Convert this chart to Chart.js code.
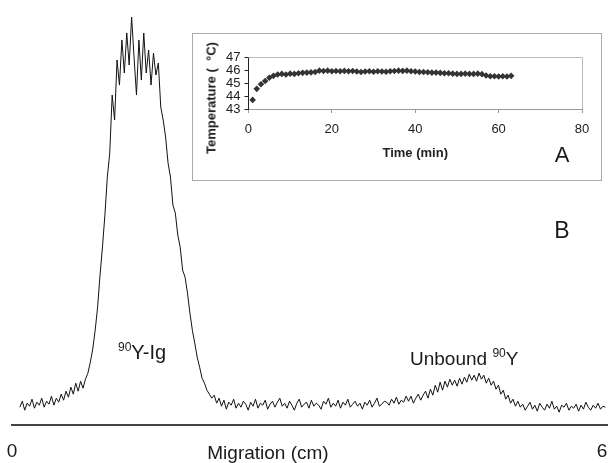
<!DOCTYPE html>
<html>
<head>
<meta charset="utf-8">
<script src="https://cdn.jsdelivr.net/npm/chart.js@4.4.1/dist/chart.umd.min.js"></script>
<style>
  body { margin: 0; background: #fff; font-family: Arial, "Liberation Sans", sans-serif; color: #1a1a1a; }
  #wrap { position: relative; width: 608px; height: 463px; overflow: hidden; }
  #main { position: absolute; left: 0; top: 0; }
  #insetBox { position: absolute; left: 192px; top: 33px; width: 408px; height: 146px; border: 1px solid #aaa; background: #fff; }
  .lbl { position: absolute; white-space: nowrap; line-height: 1; }
  .sup { font-size: 12px; position: relative; top: -8px; }
</style>
</head>
<body>
<div id="wrap">
  <canvas id="main" width="608" height="463"></canvas>
  <div id="insetBox"><canvas id="inset" width="408" height="146"></canvas></div>

  <div class="lbl" style="left:211px;top:98px;font-size:13px;font-weight:bold;transform:translate(-50%,-50%) rotate(-90deg);">Temperature (&nbsp; °C)</div>
  <div class="lbl" style="left:562px;top:155px;font-size:22px;transform:translate(-50%,-50%);">A</div>
  <div class="lbl" style="left:562px;top:230px;font-size:23px;transform:translate(-50%,-50%);">B</div>
  <div class="lbl" style="left:118px;top:342px;font-size:20px;"><span class="sup">90</span>Y-Ig</div>
  <div class="lbl" style="left:410px;top:349px;font-size:19px;">Unbound <span class="sup">90</span>Y</div>
  <div class="lbl" style="left:268px;top:452px;font-size:19px;transform:translate(-50%,-50%);">Migration (cm)</div>
</div>

<script>
//migration positions of the scanner readings (cm)
const migStart = 0.08
const migStep = 0.0247
//counts, left to right
const counts = [
  18,24,15,22,19,26,17,23,20,27,18,24,21,29,20,27,23,31,25,34,28,38,31,42,34,44,37,46,
  52,63,76,95,118,150,178,210,248,272,330,305,365,340,385,352,392,360,408,368,330,385,
  345,392,352,375,340,372,350,362,318,305,288,262,248,220,212,190,178,155,148,132,112,95,
  82,68,58,47,42,35,31,27,30,
  22,27,19,25,16,23,20,26,17,22,
  18,24,21,15,23,19,26,17,22,20,25,16,21,24,18,23,27,19,22,17,24,20,15,22,26,18,21,23,
  17,25,19,22,20,16,24,21,27,18,22,19,25,17,23,20,26,18,21,24,19,22,16,23,20,25,18,22,
  27,19,21,24,23,20,26,22,28,21,25,23,29,
  24,29,22,27,31,25,30,34,27,36,30,40,33,43,35,44,38,46,40,45,39,47,41,48,43,51,45,50,
  44,52,46,50,42,47,40,44,36,40,31,35,26,30,22,26,19,24,18,
  21,15,19,23,16,20,14,22,18,15,21,17,24,16,19,13,20,18,22,15,19,17,21,14,20,16,23,18,
  15,20,17,22,16,19,18
]
const migTicks = [0, 6]

//inset A: temperature logged every minute
const timeStart = 1
const temps = [
  43.7,44.55,44.9,45.15,45.4,45.55,45.65,45.7,45.65,45.72,
  45.7,45.75,45.78,45.8,45.82,45.85,45.95,45.92,45.95,45.9,
  45.92,45.9,45.93,45.9,45.92,45.88,45.85,45.88,45.9,45.87,
  45.9,45.88,45.86,45.9,45.92,45.95,45.93,45.95,45.9,45.88,
  45.85,45.85,45.83,45.8,45.8,45.78,45.75,45.75,45.72,45.7,
  45.7,45.72,45.7,45.7,45.72,45.68,45.58,45.52,45.52,45.5,
  45.52,45.5,45.55
]

const fontFam = 'Arial, "Liberation Sans", sans-serif'

//main trace
new Chart(document.getElementById('main'), {
  type: 'line',
  data: {
    datasets: [{
      data: counts.map((c, i) => ({ x: migStart + i * migStep, y: c })),
      borderColor: '#111',
      borderWidth: 1,
      pointRadius: 0,
      tension: 0
    }]
  },
  options: {
    responsive: false,
    animation: false,
    layout: { padding: { left: 12, right: 0, top: 10, bottom: 0 } },
    plugins: { legend: { display: false }, tooltip: { enabled: false } },
    scales: {
      x: {
        type: 'linear',
        min: 0,
        max: 6.06,
        afterBuildTicks: axis => { axis.ticks = migTicks.map(v => ({ value: v })) },
        //invisible tick marks just push the labels down
        grid: { display: true, drawOnChartArea: false, drawTicks: true, tickLength: 15, tickColor: 'rgba(0,0,0,0)' },
        border: { display: true, color: '#444', width: 2 },
        ticks: { padding: 0, color: '#1a1a1a', maxRotation: 0, autoSkip: false, font: { size: 19, family: fontFam } }
      },
      y: { min: 0, max: 415, display: false }
    }
  }
})

//light frame round the inset plot area (top and right edges)
const plotFrame = {
  id: 'plotFrame',
  beforeDatasetsDraw(chart) {
    const { ctx, chartArea: a } = chart
    ctx.save()
    ctx.strokeStyle = '#bbb'
    ctx.lineWidth = 1
    ctx.beginPath()
    ctx.moveTo(a.left, a.top + 0.5)
    ctx.lineTo(a.right + 0.5, a.top + 0.5)
    ctx.lineTo(a.right + 0.5, a.bottom)
    ctx.stroke()
    ctx.restore()
  }
}

new Chart(document.getElementById('inset'), {
  type: 'scatter',
  data: {
    datasets: [{
      data: temps.map((t, i) => ({ x: timeStart + i, y: t })),
      pointStyle: 'rectRot',
      pointRadius: 3.3,
      backgroundColor: '#333',
      borderColor: '#333',
      borderWidth: 0
    }]
  },
  options: {
    responsive: false,
    animation: false,
    layout: { padding: { left: 29, right: 19, top: 23, bottom: 19 } },
    plugins: { legend: { display: false }, tooltip: { enabled: false } },
    scales: {
      x: {
        min: 0, max: 80,
        grid: { drawOnChartArea: false, drawTicks: true, tickLength: 4, color: '#999' },
        border: { color: '#999', width: 1 },
        ticks: { stepSize: 20, padding: 9, color: '#222', font: { size: 13, family: fontFam } },
        title: { display: true, text: 'Time (min)', color: '#222', padding: { top: 2, bottom: 0 }, font: { size: 13, weight: 'bold', family: fontFam } }
      },
      y: {
        min: 43, max: 47,
        grid: { drawOnChartArea: false, drawTicks: true, tickLength: 4, color: '#222' },
        border: { color: '#222', width: 1 },
        ticks: { stepSize: 1, padding: 4, autoSkip: false, color: '#222', font: { size: 13, family: fontFam } }
      }
    }
  },
  plugins: [plotFrame]
})
</script>
</body>
</html>
